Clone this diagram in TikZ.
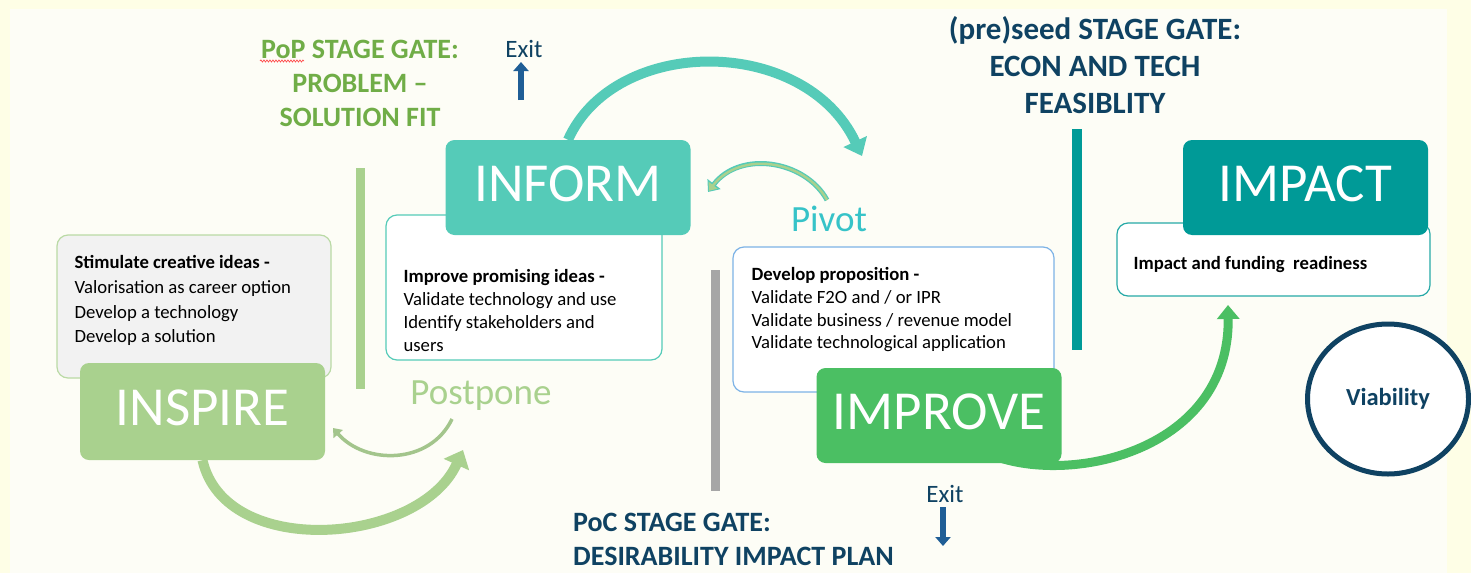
\documentclass[tikz,border=0pt]{standalone}
\usepackage{fontspec}
\setmainfont{Carlito}
\usetikzlibrary{positioning,arrows.meta,shapes.geometric,decorations.pathmorphing}

\definecolor{inspiregreen}{HTML}{A9D18E}
\definecolor{informteal}{HTML}{55CBB8}
\definecolor{improvegreen}{HTML}{4BBF63}
\definecolor{impactteal}{HTML}{009A97}
\definecolor{gatenavy}{HTML}{0F4262}
\definecolor{popgreen}{HTML}{70AD47}
\definecolor{exitblue}{HTML}{1F5E96}
\definecolor{pivotcyan}{HTML}{36C3C8}
\definecolor{propblue}{HTML}{7DB3E6}
\definecolor{panel}{HTML}{FDFDF6}
\definecolor{outerband}{HTML}{FEFEE6}

\tikzset{
  stagebox/.style={rectangle, rounded corners=9pt, minimum width=245pt, minimum height=95pt,
    inner sep=0pt, text=white, font=\fontsize{55}{60}\selectfont, text height=35pt, text depth=7pt},
  infobox/.style={rectangle, rounded corners=11pt, fill=white, line width=1.2pt, inner sep=0pt},
  desc/.style={anchor=north west, inner sep=0pt, align=left, font=\fontsize{18.7}{23}\selectfont},
  gatetitle/.style={font=\bfseries\fontsize{28}{34}\selectfont, align=center, inner sep=0pt},
  cyclearc/.style={line width=10pt},
  exitarrow/.style={exitblue, line width=6pt, -{Triangle[length=9pt,width=15pt]}},
  exitlabel/.style={gatenavy, font=\fontsize{25}{28}\selectfont, anchor=base, inner sep=0pt}
}

\begin{document}
\begin{tikzpicture}[x=1pt,y=-1pt]
% background
\fill[outerband] (0,0) rectangle (1471,573);
\fill[panel] (10,9) rectangle (1447,573);
\useasboundingbox (0,0) rectangle (1471,573);

% stage gates
\draw[inspiregreen, line width=9pt] (360,168) -- (360,389);
\draw[black!35, line width=9pt] (715,270) -- (715,491);
\draw[impactteal, line width=10pt] (1077,129) -- (1077,350);

\node[gatetitle, popgreen] (popgate) at (360,83) {PoP STAGE GATE:\\PROBLEM –\\SOLUTION FIT};
\draw[red!70, line width=0.7pt, decorate, decoration={snake, amplitude=1pt, segment length=3pt}]
  (260,61) -- (304,61);
\node[gatetitle, gatenavy, font=\bfseries\fontsize{31}{37}\selectfont] (seedgate) at (1095,65)
  {(pre)seed STAGE GATE:\\ECON AND TECH\\FEASIBLITY};
\node[gatetitle, gatenavy, align=left, anchor=west] (pocgate) at (573,539)
  {PoC STAGE GATE:\\DESIRABILITY IMPACT PLAN};

% description boxes
\node[infobox, draw=inspiregreen!80, fill=black!5, minimum width=274pt, minimum height=143pt] (stimbox) at (194,306.5) {};
\node[desc, below right=21pt and 18pt of stimbox.north west, font=\fontsize{18.7}{24.7}\selectfont] (stimtext)
  {\textbf{Stimulate creative ideas -}\\Valorisation as career option\\Develop a technology\\Develop a solution};

\node[infobox, draw=informteal, minimum width=276pt, minimum height=145pt] (ideabox) at (524,287.5) {};
\node[desc, below right=55pt and 18pt of ideabox.north west] (ideatext)
  {\textbf{Improve promising ideas -}\\Validate technology and use\\Identify stakeholders and\\users};

\node[infobox, draw=propblue, minimum width=321pt, minimum height=145pt] (propbox) at (893.5,319.5) {};
\node[desc, below right=21pt and 19pt of propbox.north west, font=\fontsize{18.7}{22.7}\selectfont] (proptext)
  {\textbf{Develop proposition -}\\Validate F2O and / or IPR\\Validate business / revenue model\\Validate technological application};

\node[infobox, draw=impactteal!85, minimum width=313pt, minimum height=73pt] (readybox) at (1273.5,259.5) {};
\node[desc, below right=34pt and 17pt of readybox.north west] (readytext)
  {\textbf{Impact and funding~ readiness}};

% improve -> impact, starts under the IMPROVE box
\coordinate (improveout) at (985,452);
\coordinate (impactin) at (1228,305);
\draw[improvegreen, line width=9pt, -{Triangle[length=14pt,width=22pt]}]
  (improveout) .. controls (1060,488) and (1230,455) .. (impactin);

% stages
\node[stagebox, fill=inspiregreen, minimum height=97pt] (inspire) at (202.5,411.5) {INSPIRE};
\node[stagebox, fill=informteal] (inform) at (568,187.5) {INFORM};
\node[stagebox, fill=improvegreen] (improve) at (939,415.5) {IMPROVE};
\node[stagebox, fill=impactteal] (impact) at (1305.5,187.5) {IMPACT};

\node[inspiregreen, font=\fontsize{37}{40}\selectfont, anchor=base, inner sep=0pt] (postpone) at (481,404) {Postpone};
\node[pivotcyan, font=\fontsize{37}{40}\selectfont, anchor=base, inner sep=0pt] (pivot) at (829,231) {Pivot};

\node[ellipse, draw=gatenavy, line width=5pt, fill=white, minimum width=161pt, minimum height=150pt,
  text=gatenavy, font=\bfseries\fontsize{24.5}{28}\selectfont] (viability) at (1388,399) {Viability};

% exits
\node[exitlabel] (exitup) at (524,57) {Exit};
\node[exitlabel] (exitdown) at (945,502) {Exit};
\coordinate (exitfootup) at (521,100);
\coordinate (exittipup) at (521,62);
\coordinate (exitfootdown) at (943,507);
\coordinate (exittipdown) at (943,546);
\draw[exitarrow] (exitfootup) -- (exittipup);
\draw[exitarrow] (exitfootdown) -- (exittipdown);

% cycle arrows
\coordinate (postponein) at (463,450);
\coordinate (postponefoot) at (452,419);
\coordinate (inspirein) at (333,428);
\coordinate (improvein) at (862,156);
\coordinate (pivotfoot) at (827,200);
\coordinate (informin) at (708,192);

\draw[cyclearc, inspiregreen, -{Triangle[length=16pt,width=27pt]}]
  (inspire.south) .. controls (225,560) and (420,545) .. (postponein);
\draw[inspiregreen!85!gray, line width=3.5pt, -{Triangle[length=8pt,width=12pt]}]
  (postponefoot) .. controls (430,465) and (365,465) .. (inspirein);
\draw[cyclearc, informteal, -{Triangle[length=16pt,width=25pt]}]
  (inform.north) .. controls (615,35) and (805,35) .. (improvein);
\draw[informteal, line width=5pt, -{Triangle[length=10pt,width=16pt]}]
  (pivotfoot) .. controls (805,160) and (740,150) .. (informin);
\draw[inspiregreen, line width=2.4pt, shorten >=1.5pt, -{Triangle[length=7pt,width=11pt]}]
  (pivotfoot) .. controls (805,160) and (740,150) .. (informin);
\end{tikzpicture}
\end{document}
